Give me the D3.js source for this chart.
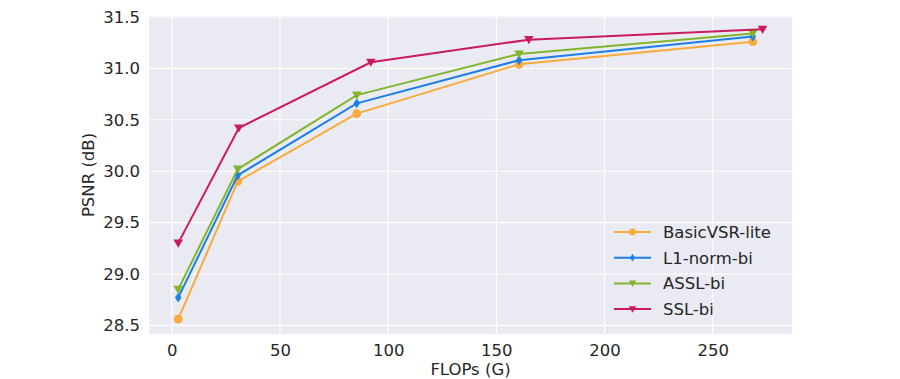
<!DOCTYPE html>
<html>
<head>
<meta charset="utf-8">
<script src="https://cdn.jsdelivr.net/npm/d3@7"></script>
<style>
  html, body { margin: 0; padding: 0; background: #fff; }
  svg { display: block; }
  text { font-family: "DejaVu Sans", sans-serif; fill: #262626; }
</style>
</head>
<body>
<svg id="chart" width="900" height="379"></svg>
<script>
const seriesNames = ["BasicVSR-lite", "L1-norm-bi", "ASSL-bi", "SSL-bi"];
const seriesColors = ["#F7AB3C", "#1C7FE6", "#80B52C", "#CB1A5D"];
const seriesMarkers = ["circle", "diamond", "triangle", "triangle"];
const flopsBasic = [3, 30.5, 85.5, 160.5, 268.5];
const flopsL1 = [3, 30.5, 85.5, 160.5, 268.5];
const flopsASSL = [3, 30.5, 85.5, 160.5, 268.5];
const flopsSSL = [3, 31, 92, 165, 273];
const psnrBasic = [28.56, 29.90, 30.56, 31.04, 31.26];
const psnrL1 = [28.77, 29.96, 30.66, 31.08, 31.31];
const psnrASSL = [28.85, 30.02, 30.74, 31.14, 31.34];
const psnrSSL = [29.30, 30.42, 31.06, 31.28, 31.38];
const xTicks = [0, 50, 100, 150, 200, 250];
const yTicks = [28.5, 29.0, 29.5, 30.0, 30.5, 31.0, 31.5];

(function () {
const allX = [flopsBasic, flopsL1, flopsASSL, flopsSSL];
const allY = [psnrBasic, psnrL1, psnrASSL, psnrSSL];

const svg = d3.select("#chart");
const pL = 149, pR = 792, pT = 16, pB = 334;

const x = d3.scaleLinear().domain([-10.5, 286.6]).range([pL, pR]);
const y = d3.scaleLinear().domain([28.416, 31.51]).range([pB, pT]);

svg.append("rect").attr("x", pL).attr("y", pT)
  .attr("width", pR - pL).attr("height", pB - pT).attr("fill", "#EAEAF2");

const g = svg.append("g");
g.selectAll(".vg").data(xTicks).enter().append("line")
  .attr("x1", d => x(d)).attr("x2", d => x(d)).attr("y1", pT).attr("y2", pB)
  .attr("stroke", "#fff").attr("stroke-width", 1.1);
g.selectAll(".hg").data(yTicks).enter().append("line")
  .attr("x1", pL).attr("x2", pR).attr("y1", d => y(d)).attr("y2", d => y(d))
  .attr("stroke", "#fff").attr("stroke-width", 1.1);

const xAxis = d3.axisBottom(x).tickValues(xTicks).tickFormat(d3.format("d")).tickSize(0).tickPadding(10);
const xa = svg.append("g").attr("transform", `translate(0,${pB})`).call(xAxis);
xa.select(".domain").remove();
xa.selectAll("text").style("font-size", "16.5px").style("font-family", "DejaVu Sans").attr("fill", "#262626");

const yAxis = d3.axisLeft(y).tickValues(yTicks).tickFormat(d3.format(".1f")).tickSize(0).tickPadding(9);
const ya = svg.append("g").attr("transform", `translate(${pL},0)`).call(yAxis);
ya.select(".domain").remove();
ya.selectAll("text").style("font-size", "16.5px").style("font-family", "DejaVu Sans").attr("fill", "#262626");

svg.append("text").attr("x", (pL + pR) / 2).attr("y", 375)
  .attr("text-anchor", "middle").style("font-size", "16.5px").text("FLOPs (G)");
svg.append("text").attr("transform", `translate(94,${(pT + pB) / 2}) rotate(-90)`)
  .attr("text-anchor", "middle").style("font-size", "16.5px").text("PSNR (dB)");

function markerPath(type, size) {
  if (type === "circle") return d3.symbol().type(d3.symbolCircle).size(size)();
  if (type === "diamond") {
    const w = Math.sqrt(size) * 0.42, h = Math.sqrt(size) * 0.64;
    return `M0,${-h}L${w},0L0,${h}L${-w},0Z`;
  }
  const s = Math.sqrt(size) * 0.62;
  return `M${-s},${-s * 0.75}L${s},${-s * 0.75}L0,${s * 0.95}Z`;
}

const line = d3.line().x(d => x(d[0])).y(d => y(d[1]));
seriesNames.forEach((name, i) => {
  const pts = allX[i].map((v, j) => [v, allY[i][j]]);
  svg.append("path").datum(pts).attr("d", line)
    .attr("fill", "none").attr("stroke", seriesColors[i]).attr("stroke-width", 2);
  svg.selectAll(".m" + i).data(pts).enter().append("path")
    .attr("transform", d => `translate(${x(d[0])},${y(d[1])})`)
    .attr("d", markerPath(seriesMarkers[i], 60))
    .attr("fill", seriesColors[i]);
});

const legY0 = 232, legDY = 25.7;
seriesNames.forEach((name, i) => {
  const ly = legY0 + i * legDY;
  svg.append("line").attr("x1", 614).attr("x2", 651).attr("y1", ly).attr("y2", ly)
    .attr("stroke", seriesColors[i]).attr("stroke-width", 2);
  svg.append("path").attr("transform", `translate(632.5,${ly})`)
    .attr("d", markerPath(seriesMarkers[i], 36)).attr("fill", seriesColors[i]);
  svg.append("text").attr("x", 663).attr("y", ly + 6).style("font-size", "16.5px").text(name);
});
})();
</script>
</body>
</html>
